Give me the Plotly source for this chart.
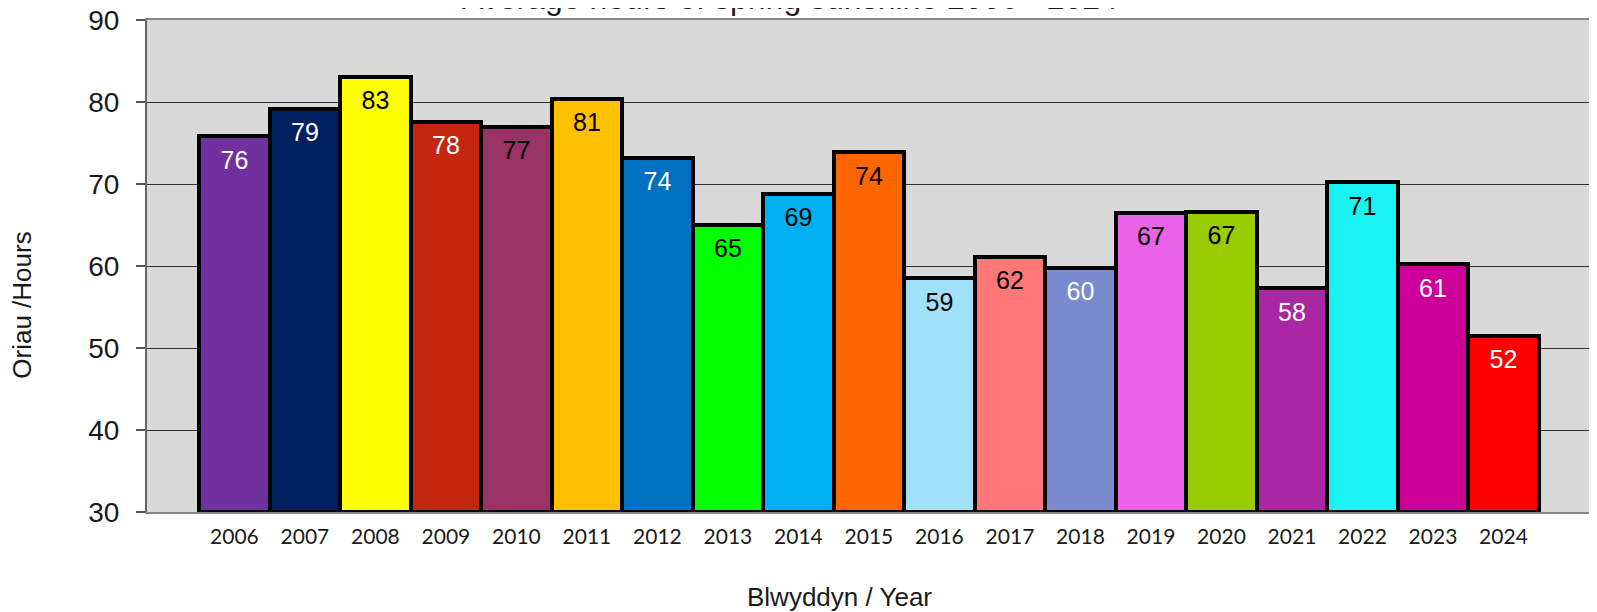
import plotly.graph_objects as go

years = ["2006", "2007", "2008", "2009", "2010", "2011", "2012", "2013", "2014", "2015",
         "2016", "2017", "2018", "2019", "2020", "2021", "2022", "2023", "2024"]
hours = [75.8, 79.2, 83.1, 77.6, 77.0, 80.4, 73.2, 65.0, 68.8, 73.9,
         58.5, 61.1, 59.8, 66.5, 66.6, 57.3, 70.2, 60.2, 51.5]
labels = ["76", "79", "83", "78", "77", "81", "74", "65", "69", "74",
          "59", "62", "60", "67", "67", "58", "71", "61", "52"]
bar_colors = ["#7030A0", "#002060", "#FFFF00", "#C4260E", "#993366", "#FFC000", "#0070C0",
              "#00FF00", "#00B0F0", "#FF6600", "#A0E0F8", "#FF7777", "#7B8BD0", "#EA62E5",
              "#99CC00", "#AA27A3", "#1AF3F3", "#CC0099", "#FF0000"]
label_colors = ["white", "white", "black", "white", "black", "black", "white", "black",
                "black", "black", "black", "black", "white", "black", "black", "white",
                "black", "white", "white"]
y_ticks = [30, 40, 50, 60, 70, 80, 90]
base_value = 30
label_drop = 3.2

fig = go.Figure()
fig.add_trace(go.Bar(
    x=years,
    y=[h - base_value for h in hours],
    base=base_value,
    marker=dict(color=bar_colors, line=dict(color="black", width=4)),
    hoverinfo="skip",
))
fig.add_trace(go.Scatter(
    x=years,
    y=[h - label_drop for h in hours],
    text=labels,
    mode="text",
    textfont=dict(family="Liberation Sans, Arial", size=25, color=label_colors),
    hoverinfo="skip",
))

# page body has an 8px default margin, so the figure is offset by 8px
fig.update_layout(
    width=1589, height=604,
    margin=dict(l=139, r=4, t=12, b=100),
    paper_bgcolor="white",
    plot_bgcolor="#D9D9D9",
    showlegend=False,
    bargap=0,
    xaxis=dict(
        type="category",
        range=[-1.24, 19.27],
        automargin=False,
        showgrid=False,
        showline=True, linecolor="#888888", linewidth=2, mirror=True,
        ticks="",
        tickfont=dict(family="Lato", size=21, color="#1a1a1a"),
        ticklabelstandoff=5,
    ),
    yaxis=dict(
        range=[30, 90],
        automargin=False,
        tickvals=y_ticks,
        showgrid=True, gridcolor="#333333", gridwidth=1,
        showline=True, linecolor="#666666", linewidth=2, mirror=True,
        ticks="outside", ticklen=9, tickcolor="#555555", tickwidth=1.5,
        tickfont=dict(family="Liberation Sans, Arial", size=28, color="#1a1a1a"),
        ticklabelstandoff=11,
        ticklabeloverflow="allow",
        zeroline=False,
    ),
    annotations=[
        dict(text="Average hours of spring sunshine 2006 - 2024", xref="paper", yref="paper",
             x=0.4447, y=1.0447, xanchor="center", yanchor="middle", showarrow=False,
             font=dict(family="Liberation Sans, Arial", size=32, color="#1a1a1a")),
        dict(text="Oriau /Hours", xref="paper", yref="paper", x=-0.0862, y=0.42,
             xanchor="center", yanchor="middle", textangle=-90, showarrow=False,
             font=dict(family="Liberation Sans, Arial", size=26, color="#1a1a1a")),
        dict(text="Blwyddyn / Year", xref="paper", yref="paper", x=0.479, y=-0.1728,
             xanchor="center", yanchor="middle", showarrow=False,
             font=dict(family="Liberation Sans, Arial", size=26, color="#1a1a1a")),
    ],
)

fig.write_html("out.html")
